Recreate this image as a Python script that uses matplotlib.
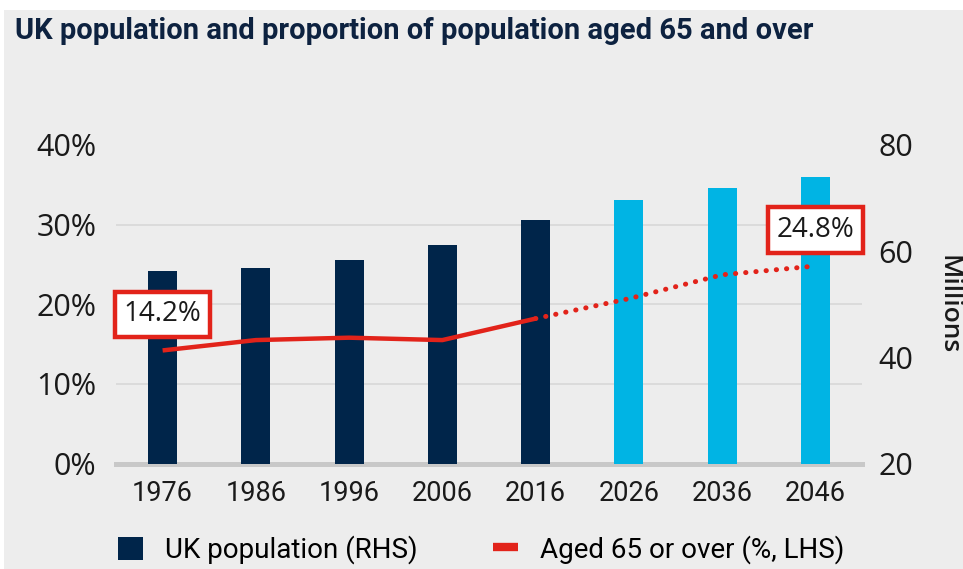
import matplotlib
matplotlib.use("Agg")
import matplotlib.pyplot as plt
from matplotlib.patches import Patch, Rectangle
from matplotlib.lines import Line2D
import numpy as np

years = [1976, 1986, 1996, 2006, 2016, 2026, 2036, 2046]
population_m = [56.3, 56.9, 58.3, 61.1, 65.9, 69.7, 71.9, 74.0]
aged65_pct = [14.2, 15.5, 15.8, 15.5, 18.2, 20.7, 23.7, 24.8]
last_actual_year = 2016
pct_ticks = [0, 10, 20, 30, 40]
pop_ticks = [20, 40, 60, 80]

NAVY = "#00254a"
BLUE = "#00b4e4"
RED = "#e2231a"
BG = "#ededed"
GRID = "#d8d8d8"
TXT = "#1a1a1a"

NARROW = "Roboto"
SEGOE = "Open Sans"

fig = plt.figure(figsize=(9.63, 5.69), dpi=100, facecolor="white")
fig.patches.append(Rectangle((4 / 963, 0), 1, 1 - 10 / 569, transform=fig.transFigure,
                             facecolor=BG, edgecolor="none", zorder=-10))

ax = fig.add_axes([116 / 963, 1 - 463.5 / 569, (862 - 116) / 963, (463.5 - 145) / 569])
ax.set_facecolor("none")
ax2 = ax.twinx()

x = np.arange(len(years))
colors = [NAVY if y <= last_actual_year else BLUE for y in years]
ax.bar(x, population_m, width=0.31, color=colors, zorder=3)
ax.set_ylim(pop_ticks[0], pop_ticks[-1])
ax.set_xlim(-0.5, len(years) - 0.5)
ax.set_yticks(pop_ticks)
ax.yaxis.tick_right()
ax.yaxis.set_label_position("right")
lo, hi = pop_ticks[0], pop_ticks[-1]
grid_pos = [lo + (p - pct_ticks[0]) / (pct_ticks[-1] - pct_ticks[0]) * (hi - lo) for p in pct_ticks]
ax.set_yticks(grid_pos, minor=True)
ax.grid(which="minor", axis="y", color=GRID, lw=1.2, zorder=0)
ax.tick_params(which="both", length=0)
ax.tick_params(axis="y", pad=12, labelsize=22, labelcolor=TXT)
ax.set_xticks(x)
ax.set_xticklabels([str(y) for y in years])
ax.tick_params(axis="x", pad=12, labelsize=19.5, labelcolor=TXT)
for lab in ax.get_xticklabels():
    lab.set_fontfamily(NARROW)
for lab in ax.get_yticklabels():
    lab.set_fontfamily(SEGOE)
ax.set_ylabel("Millions", rotation=270, fontsize=19, family=SEGOE, fontweight="semibold",
              color=TXT, labelpad=34)
for s in ["top", "left", "right"]:
    ax.spines[s].set_visible(False)
ax.spines["bottom"].set_color("#c8c8c8")
ax.spines["bottom"].set_linewidth(3.6)
ax.set_axisbelow(True)

ax2.set_ylim(pct_ticks[0], pct_ticks[-1])
ax2.set_yticks(pct_ticks)
ax2.set_yticklabels([f"{t}%" for t in pct_ticks])
ax2.yaxis.tick_left()
ax2.tick_params(length=0, pad=14, labelsize=22, labelcolor=TXT)
for lab in ax2.get_yticklabels():
    lab.set_fontfamily(SEGOE)
for s in ax2.spines.values():
    s.set_visible(False)
n_act = sum(1 for y in years if y <= last_actual_year)
ax2.plot(x[:n_act], aged65_pct[:n_act], color=RED, lw=3.2, solid_capstyle="butt", zorder=5)
ax2.plot(x[n_act - 1:], aged65_pct[n_act - 1:], color=RED, lw=3.6,
         linestyle=(0, (0.05, 2.0)), dash_capstyle="round", zorder=5)

for i in [0, len(years) - 1]:
    ax2.annotate(f"{aged65_pct[i]:.1f}%", xy=(x[i], aged65_pct[i]), xytext=(0, 36),
                 textcoords="offset pixels", ha="center", va="center",
                 fontsize=20, family=SEGOE, color=TXT, zorder=10,
                 bbox=dict(boxstyle="square,pad=0.32", fc="white", ec=RED, lw=3.2))

fig.text(15 / 963, 1 - 31 / 569, "UK population and proportion of population aged 65 and over",
         fontsize=21, fontweight="bold", family=NARROW, color="#0d2240", va="center", ha="left")

handles = [Patch(facecolor=NAVY, edgecolor="none"),
           Line2D([0], [0], color=RED, lw=6, solid_capstyle="butt")]
fig.legend(handles, ["UK population (RHS)", "Aged 65 or over (%, LHS)"],
           loc="center", bbox_to_anchor=(481 / 963, 1 - 550 / 569), ncol=2, frameon=False,
           prop={"family": NARROW, "size": 20},
           handlelength=0.9, handleheight=0.9, handletextpad=0.8, columnspacing=2.7)

fig.savefig("out.png", dpi=100, facecolor=fig.get_facecolor())
